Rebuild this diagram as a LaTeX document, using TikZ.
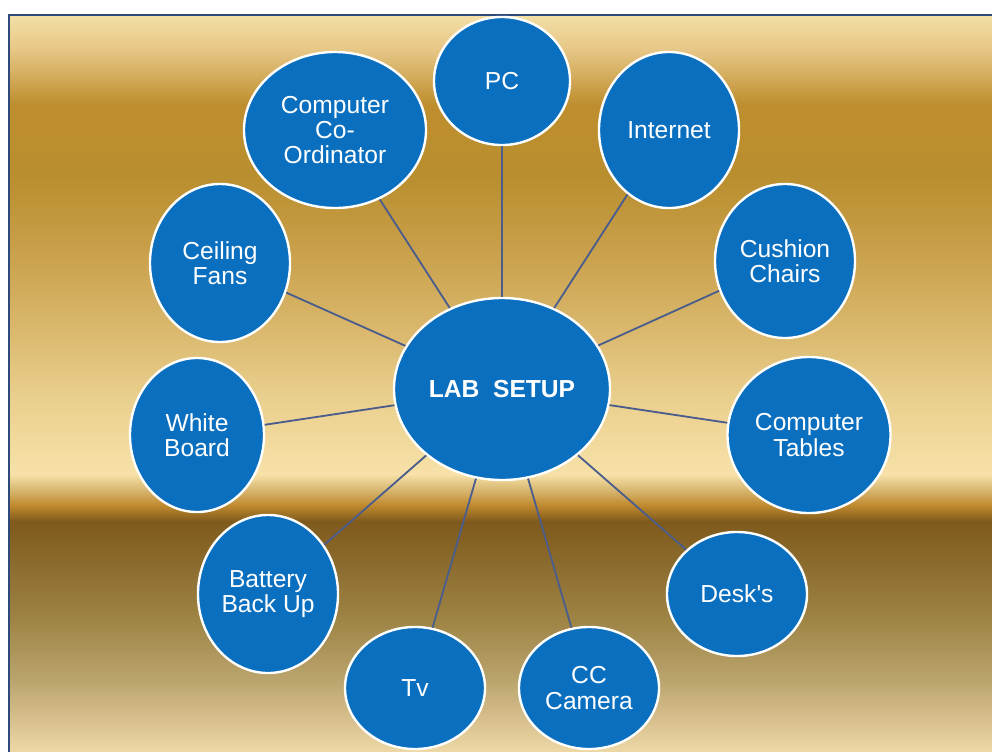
\documentclass[tikz,border=0pt]{standalone}
\usepackage{fontspec}
\setmainfont{Liberation Sans}
\usetikzlibrary{shapes.geometric}

\definecolor{labblue}{HTML}{0A6FBF}
\definecolor{spoke}{HTML}{4A5D8C}
\definecolor{framecol}{HTML}{2E4A7D}
% background stops, bottom to top
\definecolor{ga}{HTML}{EDD8A5}
\definecolor{gb}{HTML}{D8C08E}
\definecolor{gc}{HTML}{BBA56E}
\definecolor{gd}{HTML}{9E8445}
\definecolor{ge}{HTML}{8A6A2C}
\definecolor{gf}{HTML}{7F5A1C}
\definecolor{gg}{HTML}{C08A2E}
\definecolor{gh}{HTML}{D6B56E}
\definecolor{gi}{HTML}{F7E1A8}
\definecolor{gj}{HTML}{EAD08E}
\definecolor{gk}{HTML}{DAB86D}
\definecolor{gl}{HTML}{C9A04B}
\definecolor{gm}{HTML}{B98E2E}
\definecolor{gn}{HTML}{BE8E2E}
\definecolor{go}{HTML}{E6C685}
\definecolor{gp}{HTML}{F3DFA6}
\pgfdeclareverticalshading{goldband}{100bp}{color(0bp)=(ga); color(25bp)=(ga);
  color(27.1bp)=(gb); color(29.8bp)=(gc); color(33.9bp)=(gd); color(38bp)=(ge);
  color(40.6bp)=(gf); color(41.7bp)=(gg); color(42.7bp)=(gh); color(43.8bp)=(gi);
  color(48.9bp)=(gj); color(53.6bp)=(gk); color(59bp)=(gl); color(64.1bp)=(gm);
  color(68.9bp)=(gn); color(72.6bp)=(go); color(75bp)=(gp); color(100bp)=(gp)}

\tikzset{
  item/.style={ellipse, draw=white, line width=1.7pt, fill=labblue, text=white,
    inner sep=0pt, align=center, font=\fontsize{17.5}{18}\selectfont},
  link/.style={spoke, line width=1.3pt}
}

\begin{document}
\begin{tikzpicture}[x=0.025cm,y=-0.025cm]
  \useasboundingbox (0,0) rectangle (992,751);
  \clip (0,0) rectangle (992,751);
  \shade[shading=goldband] (9,15) rectangle (992,751);
  \draw[framecol, line width=1.5pt] (9,760) -- (9,15) -- (1000,15);

  % centre
  \node[item, minimum width=5.4cm, minimum height=4.55cm,
        font=\fontsize{17.5}{18}\selectfont\bfseries] (hub) at (502,389) {LAB\ \ SETUP};

  % ring
  \node[item, minimum width=3.4cm, minimum height=3.2cm] (pc) at (502,81) {PC};
  \node[item, minimum width=4.55cm, minimum height=3.9cm] (coord) at (335,130) {Computer\\Co-\\Ordinator};
  \node[item, minimum width=3.5cm, minimum height=3.9cm] (net) at (669,130) {Internet};
  \node[item, minimum width=3.5cm, minimum height=3.85cm] (chairs) at (785,261) {Cushion\\Chairs};
  \node[item, minimum width=3.5cm, minimum height=3.95cm] (fans) at (220,263) {Ceiling\\Fans};
  \node[item, minimum width=3.35cm, minimum height=3.85cm] (board) at (197,435) {White\\Board};
  \node[item, minimum width=4.075cm, minimum height=3.9cm] (tables) at (809,435) {Computer\\Tables};
  \node[item, minimum width=3.5cm, minimum height=3.95cm] (battery) at (268,594) {Battery\\Back Up};
  \node[item, minimum width=3.5cm, minimum height=3.1cm] (desks) at (737,594) {Desk\textquotesingle s};
  \node[item, minimum width=3.5cm, minimum height=3.05cm] (tv) at (415,688) {Tv};
  \node[item, minimum width=3.5cm, minimum height=3.05cm] (camera) at (589,688) {CC\\Camera};

  \foreach \n in {pc,coord,net,chairs,fans,board,tables,battery,desks,tv,camera}
    \draw[link] (hub) -- (\n);
\end{tikzpicture}
\end{document}
